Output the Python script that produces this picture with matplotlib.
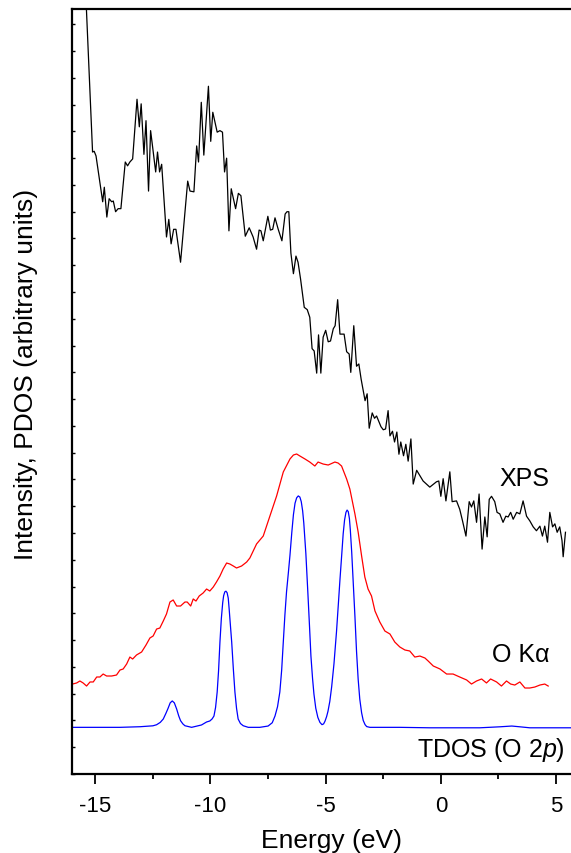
import numpy as np
import matplotlib
matplotlib.use("Agg")
import matplotlib.pyplot as plt
from matplotlib.ticker import MultipleLocator, NullFormatter

plt.rcParams['font.family'] = ['Liberation Sans', 'DejaVu Sans']
plt.rcParams['mathtext.fontset'] = 'custom'
plt.rcParams['mathtext.rm'] = 'Liberation Sans'
plt.rcParams['mathtext.it'] = 'Liberation Sans:italic'
plt.rcParams['axes.unicode_minus'] = False

# XPS valence band spectrum (energy in eV, intensity in arbitrary units)
xps_energy = [-15.43, -15.12, -15.05, -14.97, -14.68, -14.61, -14.50, -14.40, -14.29, -14.22,
              -14.12, -14.01, -13.89, -13.70, -13.60, -13.50, -13.38, -13.19, -13.09, -13.01,
              -12.89, -12.80, -12.69, -12.60, -12.38, -12.30, -12.21, -12.12, -11.91, -11.81,
              -11.71, -11.60, -11.50, -11.30, -10.99, -10.89, -10.72, -10.60, -10.52, -10.40,
              -10.29, -10.09, -9.99, -9.90, -9.71, -9.59, -9.48, -9.39, -9.30, -9.20,
              -9.10, -8.91, -8.79, -8.68, -8.49, -8.32, -8.15, -8.00, -7.89, -7.81,
              -7.71, -7.51, -7.40, -7.30, -7.20, -7.06, -6.90, -6.76, -6.68, -6.60,
              -6.51, -6.40, -6.29, -6.20, -6.09, -5.93, -5.80, -5.69, -5.59, -5.50,
              -5.39, -5.31, -5.21, -5.11, -5.00, -4.89, -4.79, -4.67, -4.59, -4.48,
              -4.38, -4.20, -4.09, -3.98, -3.91, -3.78, -3.66, -3.56, -3.46, -3.29,
              -3.20, -3.11, -2.98, -2.88, -2.79, -2.60, -2.50, -2.40, -2.29, -2.21,
              -2.10, -2.01, -1.91, -1.82, -1.74, -1.62, -1.52, -1.42, -1.30, -1.20,
              -1.05, -0.91, -0.77, -0.48, -0.19, -0.09, 0.00, 0.10, 0.22, 0.39,
              0.49, 0.68, 0.82, 0.94, 1.09, 1.23, 1.33, 1.43, 1.55, 1.66,
              1.79, 1.91, 2.01, 2.10, 2.20, 2.34, 2.44, 2.56, 2.70, 2.82,
              2.92, 3.03, 3.14, 3.29, 3.43, 3.57, 3.72, 3.86, 4.01, 4.15,
              4.30, 4.41, 4.51, 4.63, 4.73, 4.85, 4.95, 5.05, 5.16, 5.26,
              5.31, 5.41]
xps_int = [103.0, 81.3, 81.4, 80.8, 74.8, 76.7, 72.8, 75.2, 74.8, 74.9,
           73.5, 73.9, 73.9, 80.0, 79.5, 80.0, 80.4, 88.2, 84.6, 87.6,
           81.0, 85.4, 76.2, 84.1, 78.7, 81.3, 78.7, 79.7, 70.2, 72.5,
           69.3, 71.2, 71.2, 66.9, 77.5, 76.2, 76.1, 82.1, 80.0, 87.8,
           80.9, 89.9, 82.7, 86.5, 83.9, 84.1, 83.9, 78.7, 80.5, 71.0,
           76.5, 73.9, 75.9, 75.6, 70.3, 71.4, 70.2, 68.6, 71.1, 71.0,
           69.7, 72.9, 71.1, 71.2, 72.7, 71.2, 69.7, 73.2, 73.5, 73.5,
           68.1, 65.4, 67.7, 66.9, 64.7, 61.0, 60.7, 59.7, 55.6, 55.3,
           52.4, 57.4, 52.4, 57.1, 58.0, 56.5, 56.6, 58.2, 58.6, 62.0,
           57.5, 57.5, 55.2, 54.9, 52.5, 58.6, 53.3, 53.6, 51.6, 48.8,
           49.7, 45.2, 47.2, 46.5, 46.8, 45.4, 45.0, 45.1, 47.5, 44.2,
           44.8, 43.4, 44.7, 41.8, 43.4, 41.6, 43.1, 40.9, 43.8, 37.9,
           39.7, 39.0, 38.3, 37.5, 38.2, 38.3, 36.3, 38.6, 35.7, 39.5,
           35.6, 35.7, 34.6, 33.1, 31.1, 35.6, 34.9, 35.7, 32.9, 36.6,
           29.4, 33.6, 31.0, 35.9, 36.3, 35.6, 34.2, 34.0, 32.9, 33.7,
           33.6, 34.2, 33.3, 34.2, 34.0, 35.7, 33.7, 33.1, 32.3, 31.8,
           32.4, 31.1, 32.4, 30.3, 34.2, 32.3, 32.7, 31.6, 32.3, 30.5,
           28.4, 31.6]

# O K-alpha X-ray emission spectrum
xes_energy = [-15.99, -15.81, -15.67, -15.53, -15.38, -15.23, -15.09, -14.94, -14.80, -14.66,
              -14.51, -14.29, -14.08, -13.93, -13.79, -13.64, -13.50, -13.38, -13.21, -12.99,
              -12.80, -12.63, -12.49, -12.34, -12.20, -12.05, -11.91, -11.76, -11.62, -11.47,
              -11.30, -11.11, -11.01, -10.86, -10.75, -10.63, -10.49, -10.32, -10.17, -10.03,
              -9.88, -9.74, -9.59, -9.45, -9.30, -9.16, -9.01, -8.87, -8.65, -8.43,
              -8.29, -8.00, -7.71, -7.42, -7.13, -6.84, -6.55, -6.40, -6.26, -6.12,
              -5.90, -5.69, -5.47, -5.33, -5.11, -4.89, -4.60, -4.46, -4.31, -4.09,
              -3.95, -3.73, -3.59, -3.44, -3.30, -3.16, -3.01, -2.86, -2.65, -2.43,
              -2.21, -2.00, -1.78, -1.56, -1.35, -1.13, -0.91, -0.69, -0.55, -0.33,
              -0.04, 0.25, 0.53, 0.82, 1.12, 1.33, 1.55, 1.77, 1.98, 2.16,
              2.42, 2.63, 2.85, 3.03, 3.21, 3.43, 3.65, 3.86, 4.08, 4.30,
              4.51, 4.66]
xes_int = [11.76, 11.90, 12.16, 11.90, 11.50, 12.03, 12.03, 12.68, 12.68, 13.07,
           12.81, 12.81, 12.94, 13.59, 13.73, 14.38, 15.29, 15.03, 15.56, 15.95,
           16.86, 17.78, 18.04, 18.95, 19.08, 20.00, 20.92, 22.48, 22.75, 21.96,
           21.96, 22.48, 22.48, 21.96, 22.88, 22.61, 23.27, 23.66, 24.18, 23.92,
           24.44, 25.10, 25.88, 26.80, 27.58, 27.45, 27.19, 26.93, 27.19, 27.71,
           28.24, 30.07, 31.11, 33.73, 36.34, 39.48, 41.18, 41.70, 41.83, 41.57,
           41.18, 40.78, 40.26, 40.78, 40.52, 40.39, 40.78, 40.65, 40.26, 38.56,
           37.25, 33.99, 31.63, 28.50, 25.75, 24.18, 23.27, 21.31, 19.87, 18.69,
           18.30, 17.25, 16.60, 16.21, 16.08, 15.29, 15.42, 15.16, 14.77, 14.12,
           13.73, 13.07, 13.07, 12.68, 12.29, 11.76, 12.16, 12.42, 11.90, 12.42,
           12.03, 11.50, 12.16, 11.76, 11.63, 12.03, 11.24, 11.24, 11.37, 11.63,
           11.76, 11.50]

# calculated total DOS, O 2p contribution
dos_energy = [-15.99, -13.93, -13.06, -12.50, -12.34, -12.18, -12.05, -11.94, -11.84, -11.75,
              -11.66, -11.57, -11.47, -11.38, -11.30, -11.20, -11.11, -10.82, -10.39, -10.17,
              -10.03, -9.93, -9.85, -9.78, -9.71, -9.65, -9.59, -9.53, -9.47, -9.43,
              -9.38, -9.33, -9.28, -9.23, -9.19, -9.14, -9.08, -9.01, -8.94, -8.87,
              -8.80, -8.70, -8.58, -8.36, -7.86, -7.50, -7.32, -7.20, -7.09, -6.99,
              -6.91, -6.84, -6.77, -6.70, -6.62, -6.55, -6.47, -6.40, -6.33, -6.26,
              -6.19, -6.12, -6.06, -6.00, -5.95, -5.86, -5.77, -5.70, -5.64, -5.57,
              -5.51, -5.43, -5.34, -5.25, -5.16, -5.09, -5.03, -4.96, -4.90, -4.82,
              -4.74, -4.64, -4.53, -4.45, -4.38, -4.30, -4.24, -4.18, -4.12, -4.07,
              -4.02, -3.97, -3.93, -3.87, -3.81, -3.73, -3.66, -3.59, -3.52, -3.44,
              -3.37, -3.29, -3.22, -3.08, -1.78, -0.48, 1.69, 2.56, 3.08, 3.43,
              3.86, 5.64]
dos_int = [6.10, 6.10, 6.18, 6.30, 6.44, 6.75, 7.19, 7.90, 8.60, 9.30,
           9.55, 9.30, 8.50, 7.60, 6.97, 6.55, 6.31, 6.10, 6.41, 6.80,
           6.93, 7.20, 7.58, 8.70, 10.72, 13.50, 17.25, 20.30, 22.40, 23.30,
           23.80, 23.90, 23.70, 23.00, 21.57, 19.60, 17.25, 13.80, 10.72, 8.60,
           7.19, 6.60, 6.31, 6.10, 6.10, 6.27, 6.70, 7.58, 8.80, 10.72,
           13.60, 17.25, 20.80, 23.79, 26.30, 28.60, 31.60, 33.90, 35.40, 36.10,
           36.35, 36.20, 35.60, 34.40, 32.80, 28.80, 23.50, 19.20, 15.40, 12.50,
           10.46, 8.60, 7.40, 6.75, 6.45, 6.55, 6.90, 7.50, 8.20, 9.50,
           11.40, 14.40, 18.60, 22.20, 25.40, 28.80, 31.40, 33.20, 34.20, 34.50,
           34.30, 33.40, 31.90, 29.00, 25.40, 20.60, 16.00, 12.40, 9.80, 8.00,
           7.00, 6.45, 6.20, 6.10, 6.10, 6.04, 6.04, 6.17, 6.27, 6.17,
           6.04, 6.04]

fig = plt.figure(figsize=(5.71, 8.54), dpi=100)
ax = fig.add_axes([0.1266, 0.0925, 0.8734, 0.8958])

ax.plot(xps_energy, xps_int, color='black', lw=0.9)
ax.plot(xes_energy, xes_int, color='#ff0000', lw=0.9)
ax.plot(dos_energy, dos_int, color='#0000ff', lw=0.9)

ax.text(4.73, 38.7, 'XPS', fontsize=18, ha='right', va='center')
ax.text(4.73, 15.7, 'O K\u03b1', fontsize=18, ha='right', va='center')
ax.text(5.38, 3.3, 'TDOS (O 2$\\it{p}$)', fontsize=18, ha='right', va='center')

ax.set_xlim(-16.0, 5.65)
ax.set_ylim(0, 100)

ax.xaxis.set_major_locator(MultipleLocator(5))
ax.xaxis.set_minor_locator(MultipleLocator(2.5))
ax.yaxis.set_major_locator(MultipleLocator(3.5))
ax.yaxis.set_major_formatter(NullFormatter())

ax.tick_params(axis='x', which='major', direction='out', length=7, width=1.3,
               labelsize=16, pad=8, top=False)
ax.tick_params(axis='x', which='minor', direction='out', length=3.5, width=1.3, top=False)
ax.tick_params(axis='y', which='major', direction='in', length=2.5, width=1.0,
               left=True, right=False)

for side in ['left', 'bottom', 'top']:
    ax.spines[side].set_linewidth(1.6)
ax.spines['right'].set_visible(False)

ax.set_xlabel('Energy (eV)', fontsize=19)
ax.xaxis.set_label_coords(0.52, -0.071)
ax.set_ylabel('Intensity, PDOS (arbitrary units)', fontsize=19)
ax.yaxis.set_label_coords(-0.068, 0.523)

fig.savefig('out.png', dpi=100)
